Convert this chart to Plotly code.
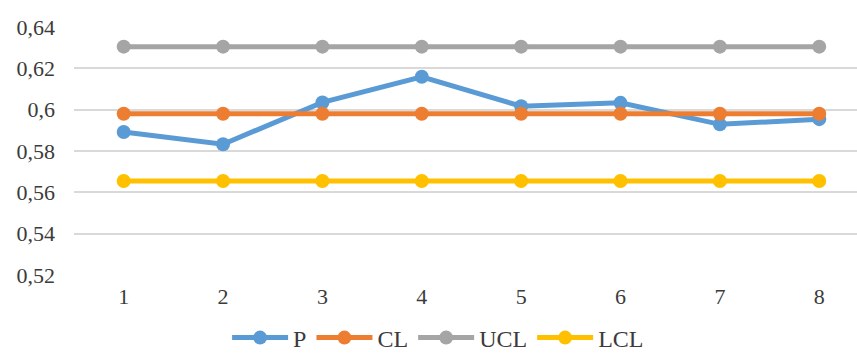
import plotly.graph_objects as go

# Control chart for proportion defective (p-chart)
samples = [1, 2, 3, 4, 5, 6, 7, 8]
p_values = [0.5892, 0.5833, 0.6035, 0.6159, 0.6017, 0.6033, 0.5929, 0.5954]
cl_values = [0.598] * 8
ucl_values = [0.6305] * 8
lcl_values = [0.5655] * 8

y_ticks = [0.52, 0.54, 0.56, 0.58, 0.60, 0.62, 0.64]
y_tick_labels = ["0,52", "0,54", "0,56", "0,58", "0,6", "0,62", "0,64"]
x_tick_labels = ["1", "2", "3", "4", "5", "6", "7", "8"]

series = [
    ("P", p_values, "#5B9BD5"),
    ("CL", cl_values, "#ED7D31"),
    ("UCL", ucl_values, "#A5A5A5"),
    ("LCL", lcl_values, "#FFC000"),
]

fig = go.Figure()
for name, vals, color in series:
    fig.add_trace(go.Scatter(
        x=samples, y=vals, name=name, mode="lines+markers",
        line=dict(color=color, width=5),
        marker=dict(color=color, size=14),
    ))

text_color = "#3b3b3b"
font_family = "Liberation Serif, Times New Roman, serif"

fig.update_layout(
    width=857, height=353,
    margin=dict(l=74, r=0, t=27, b=78, autoexpand=False),
    paper_bgcolor="white", plot_bgcolor="white",
    font=dict(family=font_family, size=22, color=text_color),
    showlegend=True,
    legend=dict(
        orientation="h", x=0.465, xanchor="center", y=-0.254, yanchor="middle",
        itemwidth=56, font=dict(size=24, color=text_color),
        traceorder="normal", itemclick=False,
    ),
    xaxis=dict(
        range=[0.5, 8.38], tickvals=samples, ticktext=x_tick_labels,
        showgrid=False, zeroline=False, showline=False, ticks="",
        ticklabelstandoff=6,
    ),
    yaxis=dict(
        range=[0.52, 0.64], tickvals=y_ticks, ticktext=y_tick_labels,
        showgrid=True, gridcolor="#D9D9D9", gridwidth=1.5,
        zeroline=False, showline=False, ticks="",
        ticklabelstandoff=18,
    ),
)

fig.write_html("out.html")
